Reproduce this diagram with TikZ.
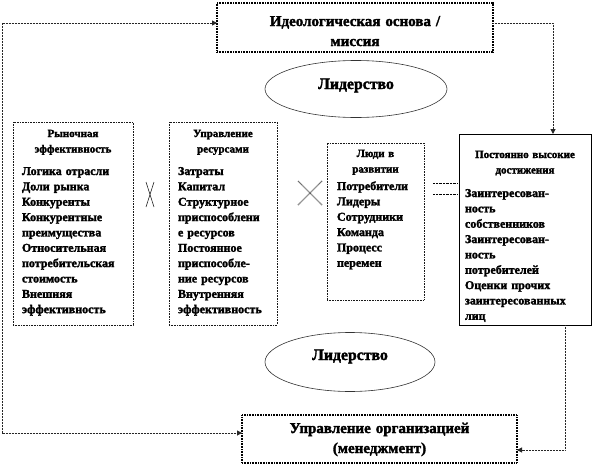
\documentclass[tikz,border=0pt]{standalone}
\usepackage{fontspec}
\setmainfont{Liberation Serif}[BoldFeatures={FakeBold=2}]
\usetikzlibrary{arrows.meta,shapes.geometric}
\begin{document}
\begin{tikzpicture}[x=1pt,y=-1pt,
  every node/.style={inner sep=0pt, outer sep=0pt},
  dotbox/.style={draw=black!90, dash pattern=on 0.8pt off 0.8pt, line width=0.9pt, anchor=north west},
  heavybox/.style={draw=black, dash pattern=on 1pt off 0.6pt, line width=1.1pt, anchor=north west},
  solidbox/.style={draw=black, line width=1pt, anchor=north west},
  oval/.style={ellipse, draw=black!80, line width=0.6pt},
  conn/.style={draw=black!85, dash pattern=on 0.8pt off 0.7pt, line width=1pt},
  tip/.style={-{Triangle[length=5pt,width=5pt]}},
  boxhead/.style={font=\bfseries\fontsize{11}{15.5}\selectfont, align=center, text width=120pt, anchor=base},
  boxbody/.style={font=\bfseries\fontsize{12}{15.35}\selectfont, align=left, text width=150pt, anchor=base west},
  bigtext/.style={font=\bfseries\fontsize{15}{20}\selectfont, align=center, text width=270pt, anchor=base},
  ovaltext/.style={font=\bfseries\fontsize{15.8}{18}\selectfont, anchor=base},
  crossline/.style={draw=black!85, line width=0.6pt},
  crossdot/.style={draw=black, dash pattern=on 0.7pt off 0.7pt, line width=0.8pt}
]
\useasboundingbox (0,0) rectangle (595,466);

% top box
\node[heavybox, minimum width=276pt, minimum height=49pt] (ideo) at (217,3) {};
\node[bigtext] (ideot) at (355,26) {Идеологическая основа /\\миссия};

% ellipses
\node[oval, minimum width=182pt, minimum height=57pt] (lead1) at (356,89) {};
\node[ovaltext] (lead1t) at (356,89) {Лидерство};
\node[oval, minimum width=170pt, minimum height=59pt] (lead2) at (350,362) {};
\node[ovaltext] (lead2t) at (350,360) {Лидерство};

% box 1
\node[dotbox, minimum width=120pt, minimum height=203pt] (b1) at (13,122) {};
\node[boxhead] (b1h) at (73,137) {Рыночная\\эффективность};
\node[boxbody] (b1b) at (22,175) {Логика отрасли\\Доли рынка\\Конкуренты\\Конкурентные\\преимущества\\Относительная\\потребительская\\стоимость\\Внешняя\\эффективность};

% box 2
\node[dotbox, minimum width=108pt, minimum height=203pt] (b2) at (169,122) {};
\node[boxhead] (b2h) at (223,137) {Управление\\ресурсами};
\node[boxbody] (b2b) at (178,175) {Затраты\\Капитал\\Структурное\\приспособлени\\е ресурсов\\Постоянное\\приспособле-\\ние ресурсов\\Внутренняя\\эффективность};

% box 3
\node[dotbox, minimum width=97pt, minimum height=157pt] (b3) at (327,143) {};
\node[boxhead] (b3h) at (375.5,157) {Люди в\\развитии};
\node[boxbody] (b3b) at (337,190) {Потребители\\Лидеры\\Сотрудники\\Команда\\Процесс\\перемен};

% box 4
\node[solidbox, minimum width=132pt, minimum height=191pt] (b4) at (459,134) {};
\node[boxhead, text width=132pt] (b4h) at (525,158) {Постоянно высокие\\достижения};
\node[boxbody] (b4b) at (465,197) {Заинтересован-\\ность\\собственников\\Заинтересован-\\ность\\потребителей\\Оценки прочих\\заинтересованных\\лиц};

% bottom box
\node[heavybox, minimum width=275pt, minimum height=48pt] (mgmt) at (242,415) {};
\node[bigtext] (mgmtt) at (379.5,433) {Управление организацией\\(менеджмент)};

% crosses and equal sign
\draw[crossline] (146,182) -- (154,207);
\draw[crossline] (154,182) -- (146,207);
\draw[crossdot] (298,181) -- (322,205);
\draw[crossdot] (322,181) -- (298,205);
\draw[crossdot] (433,183) -- (457,183);
\draw[crossdot] (433,194) -- (457,194);

% connectors
\coordinate (lefttop) at (2,23);
\coordinate (leftbot) at (2,433);
\draw[conn, {Triangle[length=5pt,width=5pt]}-{Triangle[length=5pt,width=5pt]}]
  ([yshift=4.5pt]ideo.west) -- (lefttop) -- (leftbot) -- ([yshift=6pt]mgmt.west);
\draw[conn, tip] ([yshift=4.5pt]ideo.east) -| ([xshift=28pt]b4.north);
\draw[conn, tip] ([xshift=40pt]b4.south) |- ([yshift=-11pt]mgmt.east);
\end{tikzpicture}
\end{document}
